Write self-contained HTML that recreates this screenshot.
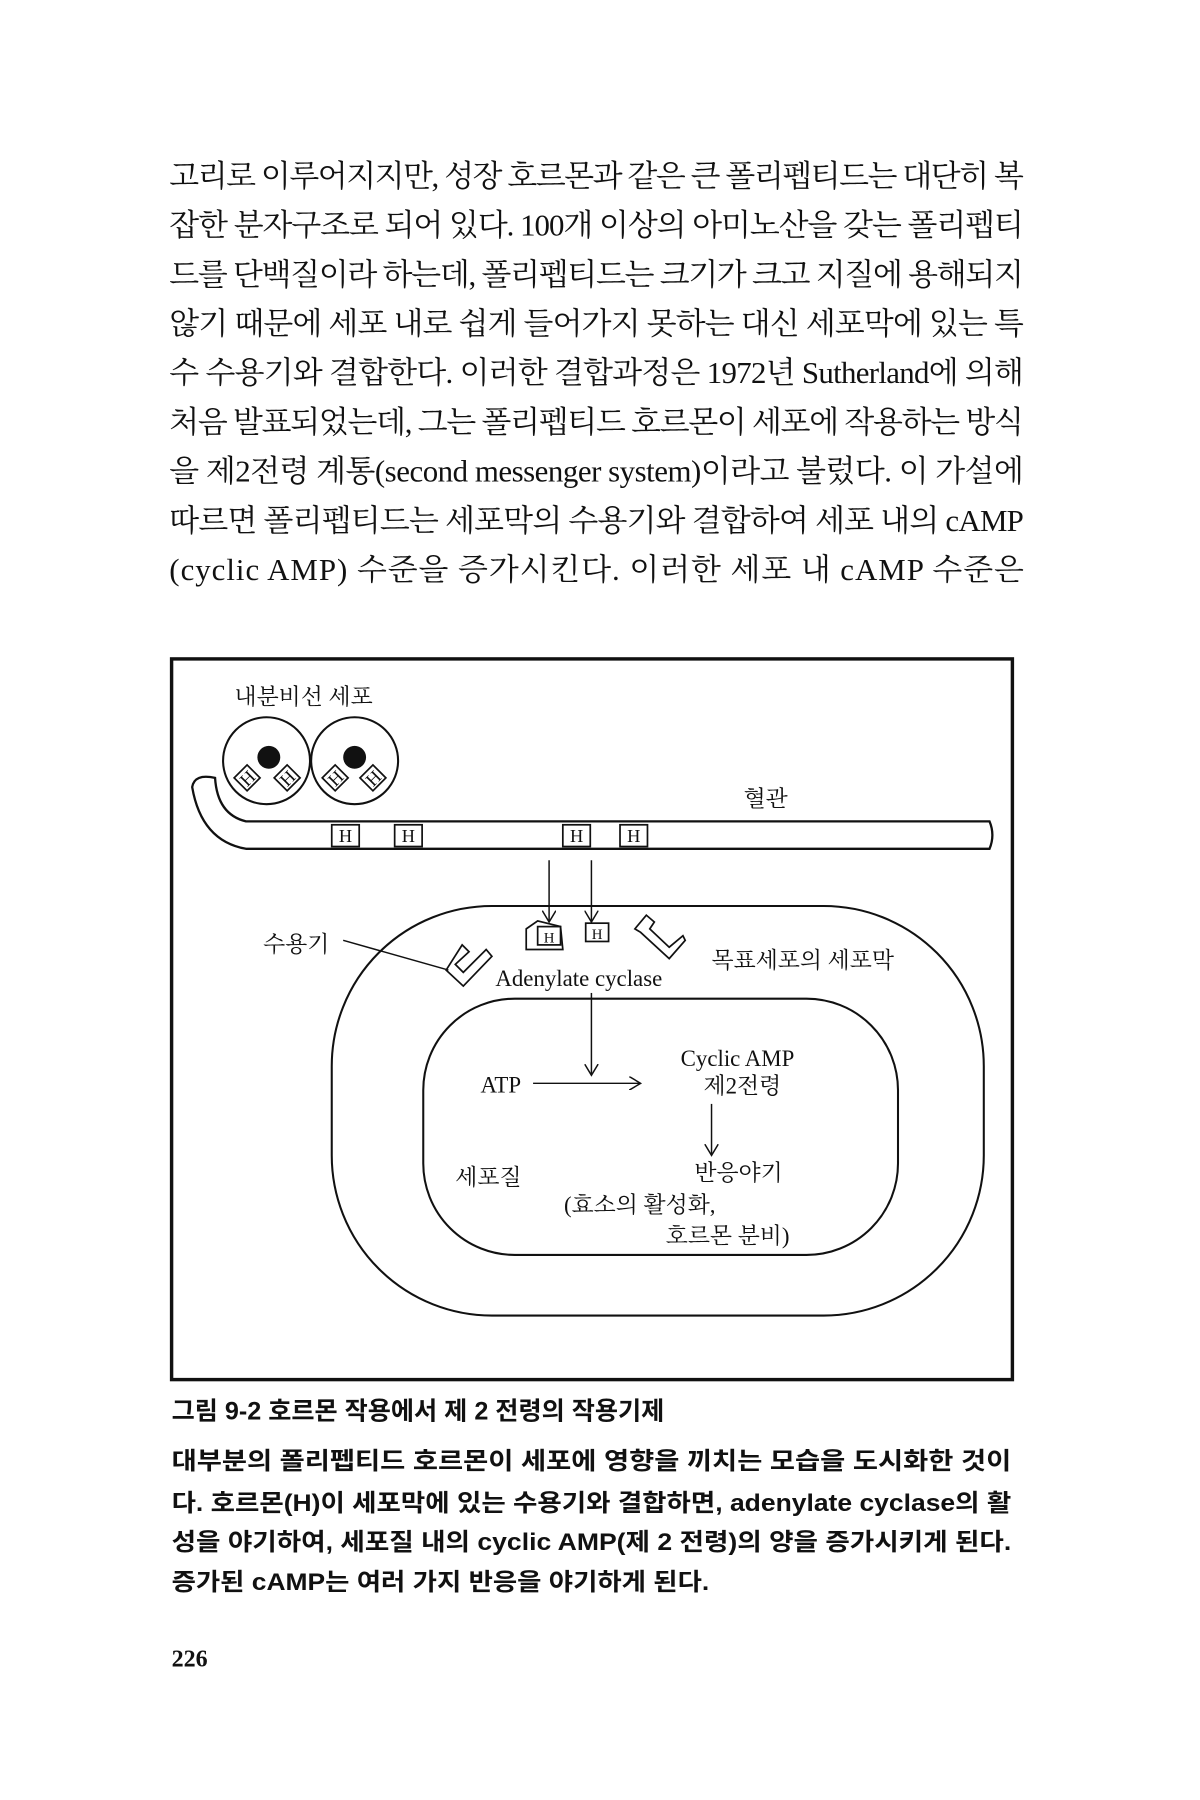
<!DOCTYPE html>
<html><head><meta charset="utf-8"><style>
html,body{margin:0;padding:0;background:#fff;}
svg{display:block;}
.t{font-family:"Liberation Serif","Noto Serif CJK SC",serif;font-size:27px;fill:#111;}
.l{font-family:"Liberation Serif","Noto Serif CJK SC",serif;font-size:20px;fill:#111;}
.c{font-family:"Liberation Sans","Noto Sans CJK KR",sans-serif;font-size:21px;fill:#111;font-weight:bold;}
.h{font-family:"Liberation Serif",serif;font-size:16px;fill:#111;}
</style></head><body>
<svg width="1200" height="1800" viewBox="0 0 1049 1573.5" xmlns="http://www.w3.org/2000/svg">
<defs><marker id="a" markerWidth="12" markerHeight="12" refX="10" refY="6" orient="auto" markerUnits="userSpaceOnUse"><path d="M0,0 L10,6 L0,12" fill="none" stroke="#111" stroke-width="1.3"/></marker></defs>
<g class="t">
<text x="148" y="163" textLength="747" lengthAdjust="spacing">고리로 이루어지지만, 성장 호르몬과 같은 큰 폴리펩티드는 대단히 복</text>
<text x="148" y="206" textLength="747" lengthAdjust="spacing">잡한 분자구조로 되어 있다. 100개 이상의 아미노산을 갖는 폴리펩티</text>
<text x="148" y="249" textLength="747" lengthAdjust="spacing">드를 단백질이라 하는데, 폴리펩티드는 크기가 크고 지질에 용해되지</text>
<text x="148" y="292" textLength="747" lengthAdjust="spacing">않기 때문에 세포 내로 쉽게 들어가지 못하는 대신 세포막에 있는 특</text>
<text x="148" y="335" textLength="747" lengthAdjust="spacing">수 수용기와 결합한다. 이러한 결합과정은 1972년 Sutherland에 의해</text>
<text x="148" y="378" textLength="747" lengthAdjust="spacing">처음 발표되었는데, 그는 폴리펩티드 호르몬이 세포에 작용하는 방식</text>
<text x="148" y="421" textLength="747" lengthAdjust="spacing">을 제2전령 계통(second messenger system)이라고 불렀다. 이 가설에</text>
<text x="148" y="464" textLength="747" lengthAdjust="spacing">따르면 폴리펩티드는 세포막의 수용기와 결합하여 세포 내의 cAMP</text>
<text x="148" y="507" textLength="747" lengthAdjust="spacing">(cyclic AMP) 수준을 증가시킨다. 이러한 세포 내 cAMP 수준은</text>
</g>
<rect x="150" y="576" width="735" height="630" fill="none" stroke="#111" stroke-width="3"/>
<text class="l" x="205" y="616">내분비선 세포</text>
<g fill="none" stroke="#111" stroke-width="1.8">
<circle cx="233" cy="665" r="38"/><circle cx="310" cy="665" r="38"/>
<path d="M188,680 Q170,676 168,688 Q176,735 215,742 L865,742 Q870,730 865,718 L215,718 Q190,712 188,680 Z" stroke-width="2"/>
<rect x="290" y="792" width="570" height="358" rx="140"/>
<rect x="370" y="873" width="415" height="224" rx="80"/>
<line x1="300" y1="822" x2="392" y2="848" stroke-width="1.3"/>
<path d="M390,848 L405,862 L430,836 L425,830 L405,850 L398,843 L410,832 L404,826 Z" stroke-width="1.5"/>
<path d="M555,812 L565,800 L572,806 L568,812 L585,828 L597,818 L599,822 L585,838 L560,815 Z" stroke-width="1.5"/>
<path d="M460,812 L470,805 L490,810 L492,830 L460,830 Z" stroke-width="1.5"/>
</g>
<circle cx="235" cy="662" r="10" fill="#111"/><circle cx="310" cy="662" r="10" fill="#111"/>
<g stroke="#111" stroke-width="1.5" fill="#fff">
<rect x="208" y="672" width="16" height="16" transform="rotate(45 216 680)"/>
<rect x="243" y="672" width="16" height="16" transform="rotate(45 251 680)"/>
<rect x="285" y="672" width="16" height="16" transform="rotate(45 293 680)"/>
<rect x="318" y="672" width="16" height="16" transform="rotate(45 326 680)"/>
<rect x="290" y="721" width="24" height="19"/><rect x="345" y="721" width="24" height="19"/>
<rect x="492" y="721" width="24" height="19"/><rect x="542" y="721" width="24" height="19"/>
<rect x="512" y="807" width="20" height="16"/>
<rect x="470" y="810" width="20" height="16"/>
</g>
<g class="h" text-anchor="middle">
<text x="216" y="686" transform="rotate(-45 216 680)">H</text>
<text x="251" y="686" transform="rotate(-45 251 680)">H</text>
<text x="293" y="686" transform="rotate(-45 293 680)">H</text>
<text x="326" y="686" transform="rotate(-45 326 680)">H</text>
<text x="302" y="736">H</text><text x="357" y="736">H</text>
<text x="504" y="736">H</text><text x="554" y="736">H</text>
<text x="522" y="821" font-size="13">H</text><text x="480" y="824" font-size="13">H</text>
</g>
<text class="l" x="650" y="705">혈관</text>
<g stroke="#111" stroke-width="1.3" marker-end="url(#a)">
<line x1="480" y1="752" x2="480" y2="806"/>
<line x1="517" y1="752" x2="517" y2="806"/>
<line x1="517" y1="868" x2="517" y2="940"/>
<line x1="466" y1="947" x2="560" y2="947"/>
<line x1="622" y1="965" x2="622" y2="1010"/>
</g>
<text class="l" x="230" y="832">수용기</text>
<text class="l" x="433" y="862">Adenylate cyclase</text>
<text class="l" x="622" y="846">목표세포의 세포막</text>
<text class="l" x="420" y="955">ATP</text>
<text class="l" x="595" y="932">Cyclic AMP</text>
<text class="l" x="615" y="956">제2전령</text>
<text class="l" x="398" y="1036">세포질</text>
<text class="l" x="607" y="1032">반응야기</text>
<text class="l" x="493" y="1060">(효소의 활성화,</text>
<text class="l" x="582" y="1087">호르몬 분비)</text>
<g class="c">
<text x="150" y="1241" font-size="22">그림 9-2  호르몬 작용에서 제 2 전령의 작용기제</text>
<text x="150" y="1284" textLength="734" lengthAdjust="spacingAndGlyphs">대부분의 폴리펩티드 호르몬이 세포에 영향을 끼치는 모습을 도시화한 것이</text>
<text x="150" y="1321" textLength="734" lengthAdjust="spacingAndGlyphs">다. 호르몬(H)이 세포막에 있는 수용기와 결합하면, adenylate cyclase의 활</text>
<text x="150" y="1355" textLength="734" lengthAdjust="spacingAndGlyphs">성을 야기하여, 세포질 내의 cyclic AMP(제 2 전령)의 양을 증가시키게 된다.</text>
<text x="150" y="1390" textLength="470" lengthAdjust="spacingAndGlyphs">증가된 cAMP는 여러 가지 반응을 야기하게 된다.</text>
<text x="150" y="1457" font-family="Liberation Serif,serif">226</text>
</g>
</svg>
</body></html>
